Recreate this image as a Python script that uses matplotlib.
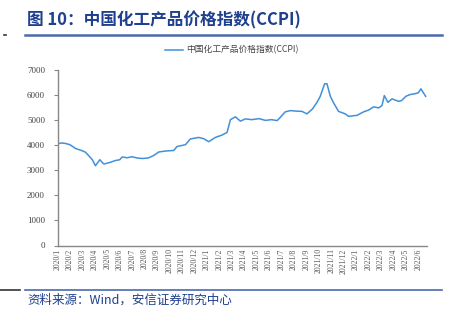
import matplotlib
matplotlib.use('Agg')
import matplotlib.pyplot as plt
from matplotlib.lines import Line2D

plt.rcParams['font.family'] = ['Noto Sans CJK SC', 'DejaVu Sans']

# 数据 (x 为月序号, 0 = 2020/1)
month_pos = [0.0, 0.3, 0.64, 1.0, 1.45, 1.98, 2.25, 2.51, 2.8, 3.05, 3.4, 3.72, 4.2, 4.66, 5.0, 5.2,
             5.6, 6.0, 6.4, 6.8, 7.3, 7.73, 8.14, 8.7, 9.34, 9.61, 10.28, 10.68, 11.35, 11.75,
             12.15, 12.69, 13.2, 13.63, 13.9, 14.3, 14.7, 15.1, 15.6, 16.2, 16.71, 17.2, 17.65,
             17.91, 18.3, 18.71, 19.2, 19.65, 20.05, 20.5, 20.86, 21.12, 21.47, 21.66, 21.93,
             22.19, 22.59, 23.13, 23.4, 23.7, 24.07, 24.6, 25.0, 25.41, 25.81, 26.08, 26.27,
             26.56, 26.89, 27.42, 27.66, 28.0, 28.33, 28.7, 29.0, 29.21, 29.59]
ccpi = [4050, 4090, 4070, 4020, 3870, 3780, 3720, 3580, 3420, 3180, 3420, 3250, 3310, 3390, 3420, 3530,
        3500, 3540, 3490, 3470, 3490, 3590, 3730, 3770, 3790, 3950, 4020, 4250, 4310, 4260,
        4140, 4310, 4400, 4510, 5020, 5130, 4960, 5050, 5020, 5060, 4990, 5020, 4980,
        5110, 5330, 5380, 5360, 5350, 5250, 5450, 5710, 5950, 6450, 6450, 5950,
        5690, 5350, 5250, 5150, 5170, 5190, 5330, 5400, 5530, 5490, 5580, 5980,
        5710, 5850, 5750, 5780, 5950, 6020, 6050, 6090, 6250, 5950]

tick_labels = [f'{y}/{m}' for y in (2020, 2021, 2022) for m in range(1, 13)][:30]

line_color = '#4090DA'
title_color = '#1F3F8F'
rule_color = '#4A6AAE'

fig = plt.figure(figsize=(4.53, 3.22), dpi=100)
ax = fig.add_axes([57.5 / 453, 1 - 245.5 / 322, (427 - 57.5) / 453, (245.5 - 70) / 322])

ax.plot(month_pos, ccpi, color=line_color, lw=1.1)
ax.set_xlim(0, 29.7)
ax.set_ylim(0, 7000)
ax.set_yticks(range(0, 7001, 1000))
ax.set_xticks(range(30))
ax.set_xticklabels(tick_labels, rotation=90, fontsize=5.5, family='Liberation Serif', color='#555555')
for lab in ax.get_yticklabels():
    lab.set_family('Liberation Serif')
    lab.set_fontsize(6.5)
    lab.set_color('#444444')
ax.tick_params(axis='x', length=0, pad=2)
ax.tick_params(axis='y', length=3, color='#888888', pad=6)
for s in ['top', 'right']:
    ax.spines[s].set_visible(False)
for s in ['left', 'bottom']:
    ax.spines[s].set_color('#888888')
    ax.spines[s].set_linewidth(1.0)

# 标题
fig.text(27 / 453, 1 - 20 / 322, '图 10：中国化工产品价格指数(CCPI)', fontsize=12, fontweight='bold',
         color=title_color, va='center', ha='left')
fig.add_artist(Line2D([25 / 453, 442 / 453], [1 - 34.5 / 322] * 2, color=rule_color, lw=1.8))
fig.add_artist(Line2D([4 / 453, 6 / 453], [1 - 35 / 322] * 2, color='#333333', lw=1.2))

# 图例
fig.add_artist(Line2D([165 / 453, 183 / 453], [1 - 50 / 322] * 2, color=line_color, lw=1.1))
fig.text(186 / 453, 1 - 50 / 322, '中国化工产品价格指数(CCPI)', fontsize=6.3, color='#444444',
         va='center', ha='left')

# 资料来源
fig.add_artist(Line2D([0, 20 / 453], [1 - 290 / 322] * 2, color='#333333', lw=1.2))
fig.add_artist(Line2D([25 / 453, 442 / 453], [1 - 289.5 / 322] * 2, color=rule_color, lw=1.2))
fig.text(27 / 453, 1 - 300 / 322, '资料来源：Wind，安信证券研究中心', fontsize=9, color=title_color,
         style='italic', va='center', ha='left')

fig.savefig('out.png', dpi=100)
